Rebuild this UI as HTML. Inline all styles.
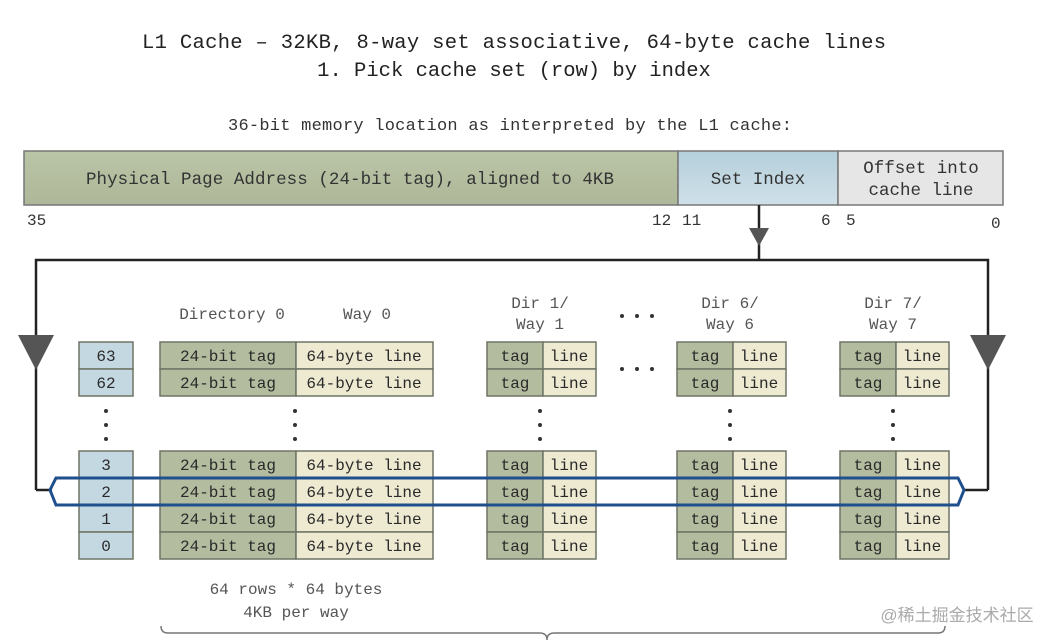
<!DOCTYPE html>
<html><head><meta charset="utf-8"><style>
html,body{margin:0;padding:0;background:#fff;}
svg{display:block;}
text{font-family:"Liberation Mono",monospace;}
.t{fill:#2a2a2a;font-size:16px;text-anchor:middle;}
.g{fill:#555;font-size:16px;text-anchor:middle;}
.tg{fill:#b3bc9f;stroke:#6f7465;stroke-width:1.5;}
.ln{fill:#eeead2;stroke:#6f7465;stroke-width:1.5;}
.ix{fill:#c4d8e2;stroke:#6f7465;stroke-width:1.5;}
</style></head><body>
<svg width="1056" height="644" viewBox="0 0 1056 644" xmlns="http://www.w3.org/2000/svg">
<defs>
<linearGradient id="gg" x1="0" y1="0" x2="0" y2="1"><stop offset="0" stop-color="#bac4a6"/><stop offset="1" stop-color="#aeb899"/></linearGradient>
<linearGradient id="bg" x1="0" y1="0" x2="0" y2="1"><stop offset="0" stop-color="#b5cfdc"/><stop offset="1" stop-color="#cfe0e8"/></linearGradient>
</defs>
<text x="514" y="48" style="font-size:20.5px;fill:#222;text-anchor:middle" textLength="744">L1 Cache – 32KB, 8-way set associative, 64-byte cache lines</text>
<text x="514" y="76" style="font-size:20.5px;fill:#222;text-anchor:middle">1. Pick cache set (row) by index</text>
<text x="510" y="130" style="font-size:17px;fill:#333;text-anchor:middle" textLength="564">36-bit memory location as interpreted by the L1 cache:</text>

<rect x="24" y="151" width="654" height="54" fill="url(#gg)" stroke="#777" stroke-width="1.5"/>
<rect x="678" y="151" width="160" height="54" fill="url(#bg)" stroke="#777" stroke-width="1.5"/>
<rect x="838" y="151" width="165" height="54" fill="#e6e6e6" stroke="#777" stroke-width="1.5"/>
<text x="350" y="184" style="font-size:17.5px;fill:#333;text-anchor:middle" textLength="528">Physical Page Address (24-bit tag), aligned to 4KB</text>
<text x="758" y="184" style="font-size:17.5px;fill:#333;text-anchor:middle">Set Index</text>
<text x="921" y="173" style="font-size:17.5px;fill:#333;text-anchor:middle">Offset into</text>
<text x="921" y="195" style="font-size:17.5px;fill:#333;text-anchor:middle">cache line</text>
<g style="font-size:16px;fill:#333">
<text x="27" y="225">35</text><text x="652" y="225">12</text><text x="682" y="225">11</text>
<text x="821" y="225">6</text><text x="846" y="225">5</text><text x="991" y="228">0</text>
</g>

<g stroke="#222" stroke-width="2.5" fill="none">
<line x1="759" y1="205" x2="759" y2="260"/>
<polyline points="36,490 36,260 988,260 988,490"/>
<line x1="36" y1="490" x2="52" y2="490"/>
<line x1="964" y1="490" x2="988" y2="490"/>
</g>
<polygon points="749,228 769,228 759,246" fill="#555"/>
<polygon points="18,335 54,335 36,370" fill="#555"/>
<polygon points="970,335 1006,335 988,370" fill="#555"/>

<text x="232" y="319" class="g">Directory 0</text>
<text x="367" y="319" class="g">Way 0</text>
<text x="540" y="308" class="g">Dir 1/</text><text x="540" y="329" class="g">Way 1</text>
<text x="730" y="308" class="g">Dir 6/</text><text x="730" y="329" class="g">Way 6</text>
<text x="893" y="308" class="g">Dir 7/</text><text x="893" y="329" class="g">Way 7</text>

<g fill="#333">
<circle cx="622" cy="316" r="2"/><circle cx="637" cy="316" r="2"/><circle cx="652" cy="316" r="2"/>
<circle cx="622" cy="369" r="2"/><circle cx="637" cy="369" r="2"/><circle cx="652" cy="369" r="2"/>
<circle cx="106" cy="411" r="2"/><circle cx="106" cy="425" r="2"/><circle cx="106" cy="439" r="2"/>
<circle cx="295" cy="411" r="2"/><circle cx="295" cy="425" r="2"/><circle cx="295" cy="439" r="2"/>
<circle cx="540" cy="411" r="2"/><circle cx="540" cy="425" r="2"/><circle cx="540" cy="439" r="2"/>
<circle cx="730" cy="411" r="2"/><circle cx="730" cy="425" r="2"/><circle cx="730" cy="439" r="2"/>
<circle cx="893" cy="411" r="2"/><circle cx="893" cy="425" r="2"/><circle cx="893" cy="439" r="2"/>
</g>

<!-- rows -->
<g id="r0">
<rect class="ix" x="79" y="342" width="54" height="27"/><text class="t" x="106" y="361">63</text>
<rect class="tg" x="160" y="342" width="136" height="27"/><text class="t" x="228" y="361">24-bit tag</text>
<rect class="ln" x="296" y="342" width="137" height="27"/><text class="t" x="364" y="361">64-byte line</text>
<rect class="tg" x="487" y="342" width="56" height="27"/><text class="t" x="515" y="361">tag</text>
<rect class="ln" x="543" y="342" width="53" height="27"/><text class="t" x="569" y="361">line</text>
<rect class="tg" x="677" y="342" width="56" height="27"/><text class="t" x="705" y="361">tag</text>
<rect class="ln" x="733" y="342" width="53" height="27"/><text class="t" x="759" y="361">line</text>
<rect class="tg" x="840" y="342" width="56" height="27"/><text class="t" x="868" y="361">tag</text>
<rect class="ln" x="896" y="342" width="53" height="27"/><text class="t" x="922" y="361">line</text>
</g>
<g>
<rect class="ix" x="79" y="369" width="54" height="27"/><text class="t" x="106" y="388">62</text>
<rect class="tg" x="160" y="369" width="136" height="27"/><text class="t" x="228" y="388">24-bit tag</text>
<rect class="ln" x="296" y="369" width="137" height="27"/><text class="t" x="364" y="388">64-byte line</text>
<rect class="tg" x="487" y="369" width="56" height="27"/><text class="t" x="515" y="388">tag</text>
<rect class="ln" x="543" y="369" width="53" height="27"/><text class="t" x="569" y="388">line</text>
<rect class="tg" x="677" y="369" width="56" height="27"/><text class="t" x="705" y="388">tag</text>
<rect class="ln" x="733" y="369" width="53" height="27"/><text class="t" x="759" y="388">line</text>
<rect class="tg" x="840" y="369" width="56" height="27"/><text class="t" x="868" y="388">tag</text>
<rect class="ln" x="896" y="369" width="53" height="27"/><text class="t" x="922" y="388">line</text>
</g>
<g>
<rect class="ix" x="79" y="451" width="54" height="27"/><text class="t" x="106" y="470">3</text>
<rect class="tg" x="160" y="451" width="136" height="27"/><text class="t" x="228" y="470">24-bit tag</text>
<rect class="ln" x="296" y="451" width="137" height="27"/><text class="t" x="364" y="470">64-byte line</text>
<rect class="tg" x="487" y="451" width="56" height="27"/><text class="t" x="515" y="470">tag</text>
<rect class="ln" x="543" y="451" width="53" height="27"/><text class="t" x="569" y="470">line</text>
<rect class="tg" x="677" y="451" width="56" height="27"/><text class="t" x="705" y="470">tag</text>
<rect class="ln" x="733" y="451" width="53" height="27"/><text class="t" x="759" y="470">line</text>
<rect class="tg" x="840" y="451" width="56" height="27"/><text class="t" x="868" y="470">tag</text>
<rect class="ln" x="896" y="451" width="53" height="27"/><text class="t" x="922" y="470">line</text>
</g>
<g>
<rect class="ix" x="79" y="478" width="54" height="27"/><text class="t" x="106" y="497">2</text>
<rect class="tg" x="160" y="478" width="136" height="27"/><text class="t" x="228" y="497">24-bit tag</text>
<rect class="ln" x="296" y="478" width="137" height="27"/><text class="t" x="364" y="497">64-byte line</text>
<rect class="tg" x="487" y="478" width="56" height="27"/><text class="t" x="515" y="497">tag</text>
<rect class="ln" x="543" y="478" width="53" height="27"/><text class="t" x="569" y="497">line</text>
<rect class="tg" x="677" y="478" width="56" height="27"/><text class="t" x="705" y="497">tag</text>
<rect class="ln" x="733" y="478" width="53" height="27"/><text class="t" x="759" y="497">line</text>
<rect class="tg" x="840" y="478" width="56" height="27"/><text class="t" x="868" y="497">tag</text>
<rect class="ln" x="896" y="478" width="53" height="27"/><text class="t" x="922" y="497">line</text>
</g>
<g>
<rect class="ix" x="79" y="505" width="54" height="27"/><text class="t" x="106" y="524">1</text>
<rect class="tg" x="160" y="505" width="136" height="27"/><text class="t" x="228" y="524">24-bit tag</text>
<rect class="ln" x="296" y="505" width="137" height="27"/><text class="t" x="364" y="524">64-byte line</text>
<rect class="tg" x="487" y="505" width="56" height="27"/><text class="t" x="515" y="524">tag</text>
<rect class="ln" x="543" y="505" width="53" height="27"/><text class="t" x="569" y="524">line</text>
<rect class="tg" x="677" y="505" width="56" height="27"/><text class="t" x="705" y="524">tag</text>
<rect class="ln" x="733" y="505" width="53" height="27"/><text class="t" x="759" y="524">line</text>
<rect class="tg" x="840" y="505" width="56" height="27"/><text class="t" x="868" y="524">tag</text>
<rect class="ln" x="896" y="505" width="53" height="27"/><text class="t" x="922" y="524">line</text>
</g>
<g>
<rect class="ix" x="79" y="532" width="54" height="27"/><text class="t" x="106" y="551">0</text>
<rect class="tg" x="160" y="532" width="136" height="27"/><text class="t" x="228" y="551">24-bit tag</text>
<rect class="ln" x="296" y="532" width="137" height="27"/><text class="t" x="364" y="551">64-byte line</text>
<rect class="tg" x="487" y="532" width="56" height="27"/><text class="t" x="515" y="551">tag</text>
<rect class="ln" x="543" y="532" width="53" height="27"/><text class="t" x="569" y="551">line</text>
<rect class="tg" x="677" y="532" width="56" height="27"/><text class="t" x="705" y="551">tag</text>
<rect class="ln" x="733" y="532" width="53" height="27"/><text class="t" x="759" y="551">line</text>
<rect class="tg" x="840" y="532" width="56" height="27"/><text class="t" x="868" y="551">tag</text>
<rect class="ln" x="896" y="532" width="53" height="27"/><text class="t" x="922" y="551">line</text>
</g>

<polygon points="56,478 958,478 964,490 958,505 56,505 50,490" fill="none" stroke="#1f4f8c" stroke-width="3"/>

<text x="296" y="594" class="g">64 rows * 64 bytes</text>
<text x="296" y="617" class="g">4KB per way</text>
<path d="M161,626 Q161,633 168,633 L540,633 Q547,633 547,640 Q547,633 554,633 L938,633 Q945,633 945,626" fill="none" stroke="#777" stroke-width="1.5"/>
<text x="957" y="621" style="font-family:'Liberation Sans','Noto Sans CJK SC',sans-serif;font-size:17px;fill:#aaa;text-anchor:middle">@稀土掘金技术社区</text>
</svg>
</body></html>
